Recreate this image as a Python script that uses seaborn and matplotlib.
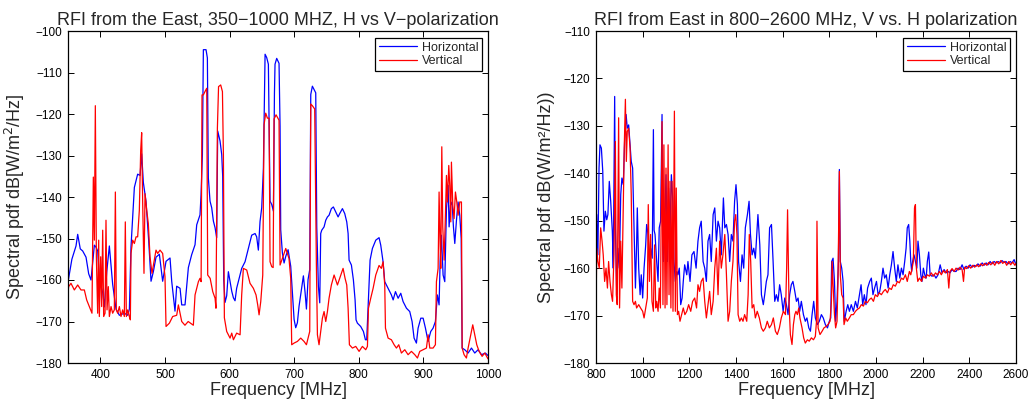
import matplotlib
matplotlib.use("Agg")
import matplotlib.pyplot as plt
import seaborn as sns
import pandas as pd

# ---------------- UHF band, 350-1000 MHz ----------------
uhf_freq_h = [350, 352, 356, 362.4, 365, 369, 372.7, 377.9, 382, 385.6, 390.8, 393, 396, 398.5,
              403.7, 406.2, 410, 414, 419.1, 424.3, 429.5, 437.2, 442.4, 445, 447.5, 452.7, 457.8,
              461.5, 464, 466.6, 470.7, 474.9, 478.5, 482.1, 486.2, 491.4, 496.5, 501.7, 507.9,
              510.5, 515.6, 518.2, 523.4, 526, 531.1, 536.3, 541.4, 546.6, 549.2, 554.3, 555.9,
              558, 559.5, 563.6, 565.7, 567.2, 569.8, 572.4, 575, 577.6, 580.1, 581.7, 585.3,
              587.9, 589.4, 591, 593, 595.6, 598.2, 600.8, 603.4, 606, 608.5, 611, 616.3, 618.8,
              624, 626.6, 629.2, 634.3, 639.5, 642, 644.6, 647.2, 649.8, 652.4, 655, 657.5, 660.1,
              661.5, 662.7, 665.3, 667.9, 669.5, 670.4, 673, 676.6, 678.2, 679.2, 681.8, 684.4,
              687, 690.6, 694.7, 697.3, 699.9, 702.4, 705, 707.6, 711.2, 714.3, 716.9, 719, 721.5,
              724.1, 725.7, 728.2, 730.8, 733.4, 735, 737.5, 739.6, 741.1, 742.7, 746.3, 748.9,
              751.5, 754, 757.6, 760.7, 764.3, 768, 770.5, 774.7, 778.3, 781.4, 783.5, 785, 788.6,
              791.7, 794.3, 795.8, 797.9, 803, 807.2, 810.3, 812.3, 814.4, 817.5, 821.1, 826.3,
              831.4, 834, 837.6, 840.2, 845.4, 850.5, 853.2, 856.8, 860.9, 865, 868.6, 873.8,
              878.9, 882.5, 885.6, 889.2, 891.8, 896, 899.6, 903.2, 907.3, 911.4, 915, 918.6,
              921.7, 924.3, 925.9, 927.9, 930.5, 933.1, 935.7, 938.3, 939.8, 941.9, 944.4, 946.5,
              948.6, 951.2, 953.7, 956.3, 958.5, 960, 964, 969.2, 974.4, 979.5, 984.7, 989.9,
              996, 1000]
uhf_h = [-160.5, -158.7, -155, -151.8, -149, -152.5, -153, -154.5, -158.5, -160, -151.6, -152,
         -153, -160, -163, -166.5, -158, -151.8, -161, -167, -168.5, -168, -168.5, -167, -152,
         -137.7, -134.5, -134.8, -129.6, -136.5, -141, -150.6, -160.3, -158, -154.5, -153.8,
         -160.3, -155.5, -154.7, -160.3, -167.5, -161.5, -162, -166, -166, -157, -153.9, -151.5,
         -146.7, -144.3, -139.5, -129.8, -104.5, -104.5, -106.5, -135.4, -141, -142.6, -145.8,
         -147.4, -149.8, -124.1, -126.5, -129.8, -135, -160, -165.4, -163.8, -158, -160.3,
         -162.7, -164.3, -165, -162, -158.8, -157.2, -155.6, -154, -152.4, -149.2, -148.8,
         -149.6, -152.8, -145.9, -142.6, -133, -105.6, -106.4, -108, -125, -141, -141.8, -143.4,
         -115, -108, -106.6, -107.8, -123, -147.9, -153.5, -155.9, -154.3, -152.7, -156.7,
         -163.1, -169.5, -171.5, -170.3, -166.3, -162.3, -159, -163, -167, -159.9, -157.5,
         -115.3, -113.3, -114.1, -114.9, -147.2, -161.5, -165.5, -148.8, -148, -147.2, -145.6,
         -144.8, -144.4, -142.8, -142.4, -143.6, -144.8, -144, -142.8, -144, -146, -148.8,
         -155.2, -156.4, -160, -164.8, -169.6, -170.4, -171.2, -172.4, -174.4, -174.4, -166.4,
         -155.2, -152.4, -150.4, -149.8, -151.6, -155.6, -160.4, -162, -163.6, -164.8, -162.8,
         -164.4, -163.2, -165.2, -166.8, -167.6, -170, -174, -175.2, -171.6, -169.2, -169.2,
         -171.6, -174.8, -172.4, -171.6, -170, -163.6, -166, -155.6, -149.2, -158.8, -160.4,
         -142.8, -137.2, -147.2, -142, -141.2, -147.2, -151.2, -145.6, -141.2, -144.4, -150,
         -176.4, -176.8, -177.6, -176.4, -177.6, -176.8, -178, -177.6, -178.2]

uhf_freq_v = [350, 351, 354.6, 359.8, 365, 370.1, 375.3, 378.9, 383, 387.1, 389.2, 390.8, 392.3,
              393.9, 395.9, 397.5, 398.5, 400.6, 402.1, 403.7, 405.2, 407.3, 408.8, 410.4, 412.4,
              414, 416.6, 419.1, 421.7, 423.3, 424.8, 426.9, 429.5, 432, 434.6, 437.2, 438.7,
              440.3, 442.4, 444.9, 446.5, 447.5, 450.1, 452.7, 455.3, 457.8, 460.4, 462.5, 464,
              465.6, 467.6, 469.2, 471.8, 474.3, 476.9, 480, 482.6, 486.2, 488.8, 492.4, 496.5,
              500.1, 501.7, 506.9, 512, 518.2, 520.8, 526, 531, 536, 544, 546.6, 551.8, 554.3,
              556, 557.4, 559.5, 562, 564.7, 566.2, 570, 574, 577.6, 579, 581.2, 583, 586.3, 589,
              590.5, 592, 595.6, 600.8, 603.4, 606, 611, 616.3, 618.8, 621.4, 626.6, 631.7, 636.9,
              641, 643.6, 645.7, 648.3, 651.4, 653.4, 656, 658.6, 661.2, 662.7, 665.3, 667.5,
              668.9, 672, 676.6, 678.2, 681.8, 687, 692, 694.7, 696.2, 699.9, 705, 710.2, 715.3,
              719, 721.5, 724.1, 725.7, 728.2, 731.8, 734.4, 736, 738.5, 741.1, 743.7, 746.3,
              748.9, 751.5, 754, 757.6, 761.8, 767, 770.5, 775.7, 778.8, 781.4, 783.5, 785.5,
              790.2, 795.3, 800.5, 805.6, 810.8, 813.4, 815, 818.5, 822.2, 826.3, 831.4, 835,
              837.6, 840.2, 841.3, 845.4, 850.5, 854.7, 858.3, 861.9, 866, 871.2, 876.3, 881.5,
              886.7, 890.8, 894.4, 899.6, 904.7, 907.3, 909.9, 915, 918.6, 920.2, 922.8, 924.3,
              925.9, 926.9, 928.5, 930, 932.1, 934.1, 935.7, 937.2, 939.3, 940.8, 942.4, 943.4,
              945.5, 947.5, 949.6, 951.7, 953.7, 956.3, 958.9, 960, 963, 966.6, 969.2, 972.3,
              976.4, 979.5, 982.6, 986.3, 990.9, 995, 1000]
uhf_v = [-163, -161.6, -160.8, -162.4, -161.2, -162.4, -162.4, -164.8, -166.4, -168, -135.2,
         -150.4, -118, -154.4, -168, -150.4, -168.8, -154.4, -166.4, -148, -168.8, -168, -145.6,
         -167.2, -161.6, -168.8, -166.4, -168, -167.2, -138.8, -167.2, -168, -166.4, -168.8,
         -167.2, -168.8, -146, -168.8, -167.2, -168.8, -169.6, -153.6, -150.4, -151.2, -149.6,
         -149.6, -143.2, -128.8, -124.5, -141.6, -158.4, -139.2, -143.2, -146.4, -154.4, -158.4,
         -156, -152.8, -153.6, -152.8, -153.6, -159.2, -171.2, -170.4, -168.8, -168.5, -166,
         -170, -170.9, -170, -170.9, -163.6, -160.4, -159.6, -160.4, -115.4, -115.4, -114.6,
         -113.8, -158.8, -159.6, -162.8, -164.4, -166.8, -123.4, -113.4, -113, -114.6, -129.8,
         -169.1, -172.4, -174, -172.8, -174.4, -172.8, -173.2, -163.6, -157.2, -157.6, -160.8,
         -162, -163.6, -166, -168.4, -165.2, -158.8, -122.6, -119.8, -121, -121, -155.6, -156.8,
         -157, -121.2, -120.2, -121.5, -156.4, -154.8, -152.4, -154.8, -159.6, -175.6, -175.2,
         -174.8, -174, -174.8, -175.6, -174, -172.4, -117.6, -118, -118.8, -156.4, -173.2,
         -175.6, -172.4, -169.2, -167.6, -170, -167.6, -164.4, -161.2, -158.8, -161.2, -159.6,
         -157.2, -159.6, -161.2, -166.8, -175.6, -176.4, -176, -177.2, -176, -176.8, -176,
         -166.8, -164.4, -162, -158.8, -156.5, -157.2, -155.6, -161.2, -171.6, -174, -174.4,
         -175.6, -176.4, -175.6, -177.6, -176.8, -178, -177.2, -178, -178.8, -177.2, -176.8,
         -176.4, -173.2, -176.4, -176.4, -175.6, -160.4, -157.2, -138.8, -151.6, -157.2, -127.9,
         -147.2, -155.2, -144.4, -134.8, -141.2, -132.4, -137.2, -146, -131.6, -142, -145.2,
         -138.8, -141.2, -144.4, -141.2, -141.2, -176.4, -178, -178.8, -176.4, -174, -170.8,
         -173.2, -175.6, -177.2, -178.4, -177.6, -179]

# ---------------- L/S band, 800-2600 MHz ----------------
ls_freq_h = [800, 803, 808, 813, 817, 823, 829, 834, 840, 846, 851, 857, 863, 870, 874, 880, 883,
             889, 894, 900, 906, 911, 917, 923, 929, 934, 940, 946, 951, 957, 963, 969, 974, 977,
             983, 989, 994, 1000, 1006, 1013, 1017, 1023, 1029, 1034, 1041, 1046, 1049, 1053,
             1060, 1066, 1071, 1077, 1083, 1086, 1089, 1094, 1100, 1106, 1111, 1117, 1123, 1129,
             1134, 1140, 1146, 1151, 1157, 1163, 1169, 1174, 1180, 1189, 1194, 1203, 1211, 1220,
             1229, 1237, 1244, 1251, 1259, 1266, 1273, 1280, 1287, 1294, 1302, 1309, 1316, 1323,
             1330, 1337, 1346, 1352, 1359, 1366, 1373, 1380, 1387, 1394, 1400, 1406, 1411, 1419,
             1426, 1433, 1440, 1449, 1456, 1462, 1469, 1476, 1483, 1489, 1494, 1502, 1509, 1517,
             1523, 1530, 1537, 1544, 1552, 1559, 1566, 1573, 1580, 1587, 1594, 1602, 1609, 1616,
             1623, 1630, 1637, 1644, 1652, 1659, 1666, 1673, 1680, 1689, 1697, 1704, 1712, 1719,
             1726, 1733, 1740, 1749, 1757, 1766, 1774, 1783, 1792, 1800, 1806, 1810, 1816, 1822,
             1827, 1833, 1839, 1843, 1847, 1853, 1859, 1864, 1872, 1879, 1886, 1894, 1903, 1912,
             1920, 1929, 1936, 1943, 1950, 1957, 1964, 1973, 1980, 1987, 1994, 2002, 2009, 2016,
             2023, 2030, 2037, 2044, 2052, 2059, 2066, 2073, 2080, 2087, 2094, 2102, 2109, 2116,
             2123, 2129, 2134, 2140, 2145, 2149, 2153, 2157, 2163, 2169, 2175, 2180, 2186, 2192,
             2197, 2203, 2209, 2215, 2220, 2226, 2232, 2240, 2249, 2257, 2266, 2275, 2283, 2292,
             2300, 2309, 2317, 2326, 2335, 2343, 2352, 2360, 2369, 2377, 2386, 2395, 2403, 2412,
             2420, 2429, 2437, 2446, 2455, 2463, 2472, 2480, 2489, 2497, 2506, 2515, 2523, 2532,
             2540, 2549, 2557, 2566, 2575, 2583, 2592, 2600]
ls_h = [-168, -148.7, -157.2, -138.9, -134, -134.7, -139.6, -152.2, -148, -149.8, -148.7, -141.7,
        -145.9, -152.2, -160, -123.8, -151.5, -165.6, -155.8, -160, -144.5, -141, -142.4, -132.6,
        -127.6, -130.5, -129.8, -134, -137.5, -138.9, -151.5, -164.2, -155.1, -147.3, -160,
        -165.6, -161.4, -166.3, -160, -155.1, -150.8, -152.9, -158.6, -155.8, -157.9, -130.8,
        -152, -152.9, -158.6, -162.8, -151.5, -150.1, -127.6, -155, -158.6, -152.9, -140.3,
        -158.6, -143.1, -152.9, -140.3, -145.9, -158.6, -162.8, -160.7, -161.4, -160, -167.7,
        -166.3, -162.8, -159.3, -161.4, -158.6, -162.8, -157.2, -156.5, -160, -154.3, -151.5,
        -150.1, -158.6, -160, -162.8, -154.3, -152.9, -158.6, -148.7, -147.3, -154.3, -150.1,
        -151.5, -157.2, -145.2, -151.5, -150.8, -152.9, -158.6, -152.9, -154.3, -145.9, -142.4,
        -146.6, -158.6, -162.8, -157.2, -160, -151.5, -148.7, -145.9, -152.9, -157.2, -155.8,
        -157.9, -152.9, -148.7, -155.1, -165.6, -167.7, -165.6, -162.8, -161.4, -151.5, -150.8,
        -158.6, -167, -165.6, -167, -163.5, -165.6, -169.1, -166.3, -167.7, -169.8, -165.6,
        -163.5, -162.8, -164.9, -167, -166.3, -169.1, -167, -169.8, -171.2, -170.5, -172.6,
        -173.3, -169.8, -167, -170.5, -171.9, -171.2, -169.8, -170.5, -171.9, -172.6, -171.2,
        -170.5, -158.6, -157.9, -162.8, -171.2, -167, -158.6, -139.2, -158.6, -160, -162.8,
        -171.2, -169.1, -167.7, -169.1, -167.7, -169.1, -167, -168.4, -165.6, -163.5, -167.7,
        -165.6, -167.7, -164.2, -162.8, -162.1, -165.6, -164.2, -162.8, -165.6, -164.9, -162.8,
        -160, -162.1, -161.4, -164.2, -161.4, -159.3, -156.5, -160, -162.8, -159.3, -162.1,
        -160, -161.4, -158.6, -155.8, -151.5, -150.8, -154.3, -158.6, -160.7, -158.6, -157.2,
        -158.6, -160, -154.3, -157.2, -161.4, -162.8, -160, -161.4, -162.1, -158.6, -156.6,
        -161.4, -161.7, -161.4, -162.1, -161.4, -159.3, -161, -160.3, -161, -160.7, -161,
        -160.3, -160.7, -160.7, -160, -160.3, -159.3, -160.3, -159.6, -160, -159.3, -159.8,
        -159.4, -159.6, -159.1, -159.6, -158.9, -159.4, -158.9, -159.3, -158.6, -159.1, -158.6,
        -158.9, -158.6, -158.9, -158.4, -158.8, -158.6, -159.1, -158.6, -158.9, -158.2, -159.3]

ls_freq_v = [800, 803, 808, 814, 820, 826, 831, 837, 843, 849, 854, 860, 866, 871, 877, 883, 887,
             891, 897, 901, 906, 911, 917, 921, 926, 930, 934, 940, 946, 951, 957, 963, 969, 974,
             983, 991, 1000, 1006, 1013, 1020, 1024, 1029, 1034, 1040, 1046, 1051, 1056, 1060,
             1066, 1071, 1076, 1083, 1087, 1091, 1096, 1100, 1104, 1109, 1113, 1117, 1121, 1126,
             1130, 1136, 1140, 1144, 1149, 1154, 1160, 1167, 1174, 1181, 1189, 1197, 1206, 1214,
             1223, 1231, 1237, 1244, 1251, 1259, 1266, 1273, 1280, 1287, 1294, 1302, 1309, 1316,
             1323, 1330, 1337, 1344, 1352, 1359, 1366, 1373, 1380, 1387, 1394, 1399, 1404, 1409,
             1416, 1423, 1430, 1437, 1446, 1452, 1457, 1463, 1469, 1476, 1483, 1491, 1500, 1509,
             1517, 1526, 1534, 1543, 1552, 1560, 1569, 1577, 1586, 1594, 1603, 1612, 1617, 1621,
             1627, 1633, 1640, 1646, 1652, 1657, 1663, 1669, 1674, 1683, 1690, 1697, 1706, 1714,
             1723, 1732, 1740, 1745, 1747, 1752, 1760, 1769, 1777, 1786, 1794, 1803, 1809, 1812,
             1816, 1822, 1827, 1833, 1837, 1843, 1847, 1853, 1859, 1863, 1870, 1877, 1886, 1894,
             1903, 1912, 1920, 1929, 1937, 1946, 1954, 1963, 1972, 1980, 1989, 1997, 2006, 2014,
             2023, 2032, 2040, 2049, 2057, 2066, 2074, 2083, 2092, 2100, 2109, 2117, 2126, 2134,
             2143, 2149, 2155, 2160, 2165, 2169, 2173, 2179, 2186, 2195, 2203, 2212, 2220, 2229,
             2237, 2246, 2255, 2263, 2272, 2280, 2289, 2297, 2306, 2312, 2317, 2326, 2335, 2343,
             2352, 2360, 2369, 2375, 2380, 2389, 2397, 2406, 2415, 2423, 2432, 2440, 2449, 2457,
             2466, 2475, 2483, 2492, 2500, 2509, 2517, 2526, 2535, 2543, 2552, 2560, 2569, 2577,
             2586, 2595, 2600]
ls_v = [-170, -155.8, -158.6, -160, -151.5, -154.3, -157.2, -162.8, -160, -164.2, -158.6, -162.8,
        -165.6, -167, -157.2, -133.3, -165.6, -167.7, -128.3, -168.4, -154.3, -164.2, -147.3,
        -134.7, -124.4, -137.5, -131.2, -130.5, -134.7, -144.5, -167, -167.7, -167, -168.4,
        -167.7, -168.4, -169.1, -170.5, -168.4, -166.3, -146.6, -162.8, -152.9, -167, -169.1,
        -155.1, -168.4, -167, -169.1, -164.2, -168.4, -129.1, -167.7, -134, -168.4, -138.9,
        -167.7, -134, -165.6, -141.7, -168.4, -141.7, -169.1, -126.9, -169.1, -143.1, -169.8,
        -169.1, -171.2, -169.8, -168.4, -169.8, -169.1, -167.7, -169.1, -167, -166.3, -168.4,
        -163.5, -164.9, -162.8, -162.1, -167, -170.5, -167.7, -164.9, -169.8, -167, -160,
        -155.8, -165.6, -154.3, -160, -157.2, -152.9, -161.4, -171.2, -169.1, -162.8, -158.6,
        -150.1, -148.7, -152.9, -169.8, -171.2, -170.5, -171.2, -169.8, -171.2, -165.6, -152.9,
        -158.6, -168.4, -167.7, -170.5, -169.1, -170.5, -172.6, -173.3, -172.6, -171.2, -172.6,
        -171.9, -170.5, -173.3, -174, -172.6, -170.5, -169.1, -169.8, -160, -147.7, -167, -174,
        -176.1, -171.9, -169.8, -169.1, -169.8, -168.4, -170.5, -172.6, -174.7, -175.8, -175.1,
        -175.4, -174.7, -175.1, -174.4, -171.2, -150.1, -172.6, -174, -173.3, -172.6, -172.3,
        -171.9, -171.2, -167, -158.6, -163.5, -169.8, -172.6, -171.2, -162.8, -139.6, -161.4,
        -165.6, -166.3, -171.9, -170.5, -171.2, -170.5, -169.8, -169.8, -169.1, -168.7, -168.4,
        -167.7, -168, -167, -167.3, -166.6, -166.3, -167, -165.6, -166, -165.2, -165.6, -164.9,
        -164.5, -165.2, -164.2, -164.5, -163.5, -163.8, -162.8, -163.1, -162.1, -162.4, -161.4,
        -162.8, -160.7, -161.4, -160, -158.6, -147.3, -146.6, -160, -162.8, -162.1, -162.8,
        -161.7, -162.1, -161.4, -161.7, -161, -161.7, -161, -161.4, -160.7, -161.4, -160.5,
        -161, -160.3, -164.2, -160.7, -160.1, -160.7, -160, -160.4, -159.8, -160.3, -162.8,
        -159.8, -160.1, -159.5, -160, -159.4, -159.8, -159.3, -159.7, -159.1, -159.5, -159,
        -159.4, -158.8, -159.3, -158.7, -159.4, -158.6, -159.1, -158.4, -159, -158.6, -159.4,
        -158.6, -159.3, -158.7, -159.4, -159]

POL_LABELS = ["Horizontal", "Vertical"]
POL_COLORS = {"Horizontal": (0, 0, 1), "Vertical": (1, 0, 0)}


def long_frame(freq_h, val_h, freq_v, val_v):
    h = pd.DataFrame({"freq": freq_h, "level": val_h, "pol": "Horizontal"})
    v = pd.DataFrame({"freq": freq_v, "level": val_v, "pol": "Vertical"})
    return pd.concat([h, v], ignore_index=True)


sns.set_style("white")
plt.rcParams["font.family"] = ["Liberation Sans", "DejaVu Sans"]
plt.rcParams["axes.unicode_minus"] = True

fig = plt.figure(figsize=(10.32, 4.01), dpi=100)
ax_l = fig.add_axes([68 / 1032, 38 / 401, 420 / 1032, 332 / 401])
ax_r = fig.add_axes([596 / 1032, 38 / 401, 420 / 1032, 332 / 401])

panels = [
    (ax_l, long_frame(uhf_freq_h, uhf_h, uhf_freq_v, uhf_v),
     (350, 1000), range(400, 1001, 100), (-180, -100), range(-180, -99, 10),
     "RFI from the East, 350\u22121000 MHZ, H vs V\u2212polarization",
     "Spectral pdf dB[W/m$^2$/Hz]"),
    (ax_r, long_frame(ls_freq_h, ls_h, ls_freq_v, ls_v),
     (800, 2600), range(800, 2601, 200), (-180, -110), range(-180, -109, 10),
     "RFI from East in 800\u22122600 MHz, V vs. H polarization",
     "Spectral pdf dB(W/m\u00b2/Hz))"),
]

for ax, df, xlim, xticks, ylim, yticks, title, ylabel in panels:
    sns.lineplot(data=df, x="freq", y="level", hue="pol", hue_order=POL_LABELS,
                 palette=POL_COLORS, estimator=None, sort=False, linewidth=0.9, ax=ax)
    ax.set_xlim(*xlim)
    ax.set_ylim(*ylim)
    ax.set_xticks(list(xticks))
    ax.set_yticks(list(yticks))
    ax.tick_params(which="major", direction="in", length=4, width=0.7, labelsize=8.5,
                   colors="black", bottom=True, left=True, top=True, right=True, pad=4)
    for s in ax.spines.values():
        s.set_visible(True)
        s.set_color("black")
        s.set_linewidth(0.9)
    ax.set_title(title, fontsize=13, pad=4)
    ax.set_xlabel("Frequency [MHz]", fontsize=13, labelpad=1)
    ax.set_ylabel(ylabel, fontsize=13, labelpad=6)
    handles, labels = ax.get_legend_handles_labels()
    leg = ax.legend(handles, labels, loc="upper right", bbox_to_anchor=(1 - 6 / 420, 1 - 7 / 332),
                    borderaxespad=0, fontsize=9, frameon=True, fancybox=False, framealpha=1,
                    edgecolor="black", handlelength=3.0, handletextpad=0.4, borderpad=0.3,
                    labelspacing=0.1)
    leg.get_frame().set_linewidth(0.9)
    for line in leg.get_lines():
        line.set_linewidth(0.9)

fig.savefig("out.png", dpi=100)
